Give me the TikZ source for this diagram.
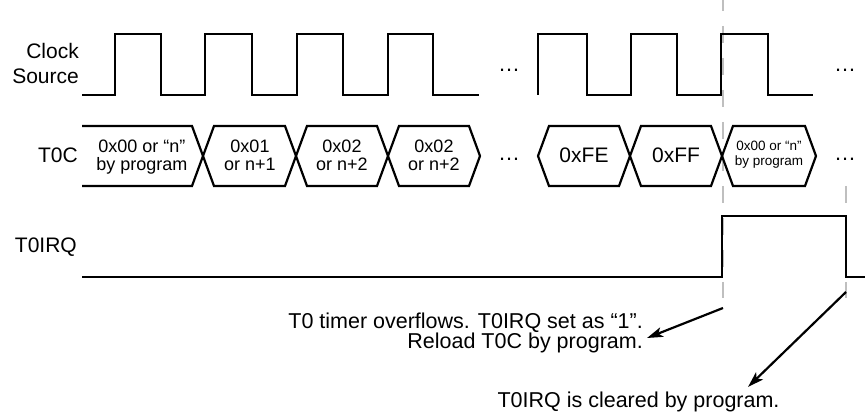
\documentclass[tikz,border=0pt]{standalone}
\usepackage{fontspec}
\setmainfont{Liberation Sans}
\usetikzlibrary{arrows.meta}
\begin{document}
\begin{tikzpicture}[x=1pt,y=-1pt,
  wave/.style={line width=2.2pt, line join=miter},
  guide/.style={line width=2pt, draw=black!25, dash pattern=on 17pt off 15pt},
  pointer/.style={line width=2.2pt, -{Stealth[length=16pt,width=10pt,inset=4pt]}},
  lbl/.style={font=\fontsize{21}{25}\selectfont, inner sep=0pt},
  val/.style={font=\fontsize{18}{18}\selectfont, inner sep=0pt, align=center, anchor=base},
  bigval/.style={font=\fontsize{21}{21}\selectfont, inner sep=0pt, anchor=base},
  smallval/.style={font=\fontsize{13.5}{15}\selectfont, inner sep=0pt, align=center, anchor=base},
  note/.style={font=\fontsize{21.5}{18.5}\selectfont, inner sep=0pt},
  gap/.style={font=\fontsize{22}{22}\selectfont, inner sep=0pt, anchor=base}
]
\useasboundingbox (0,0) rectangle (865,419);

% guide lines (under the waves)
\draw[guide, dash phase=6pt] (723,0) -- (723,298);
\draw[guide] (846,186) -- (846,298);

% signal labels
\node[lbl, anchor=east, align=right] (clk) at (79,63) {Clock\\Source};
\node[lbl, anchor=base east] (t0c) at (78,163) {T0C};
\node[lbl, anchor=base east] (irq) at (77,253) {T0IRQ};

% clock source
\draw[wave] (82,95) -- (115,95) -- (115,34) -- (161,34) -- (161,95) -- (205,95) -- (205,34) -- (252,34) -- (252,95) -- (297,95) -- (297,34) -- (343,34) -- (343,95) -- (388,95) -- (388,34) -- (433,34) -- (433,95) -- (479,95);
\draw[wave] (538,95) -- (538,34) -- (587,34) -- (587,95) -- (631,95) -- (631,34) -- (677,34) -- (677,95) -- (721,95) -- (721,34) -- (768,34) -- (768,95) -- (813,95);

% T0C bus
\draw[wave] (82,126) -- (192,126) -- (214,186) -- (285,186) -- (307,126) -- (377,126) -- (399,186) -- (469,186) -- (480,156) -- (469,126) -- (399,126) -- (377,186) -- (307,186) -- (285,126) -- (214,126) -- (192,186) -- (82,186);
\draw[wave] (538,156) -- (549,126) -- (619,126) -- (641,186) -- (711,186) -- (733,126) -- (805,126) -- (816,156) -- (805,186) -- (733,186) -- (711,126) -- (641,126) -- (619,186) -- (549,186) -- cycle;

\node[val] (v0) at (142,171) {0x00 or “n”\\by program};
\node[val] (v1) at (250,171) {0x01\\or n+1};
\node[val] (v2) at (342,171) {0x02\\or n+2};
\node[val] (v3) at (434,171) {0x02\\or n+2};
\node[bigval] (vfe) at (584,163) {0xFE};
\node[bigval] (vff) at (676,163) {0xFF};
\node[smallval] (v4) at (769,166) {0x00 or “n”\\by program};

% gaps
\node[gap] (d1) at (509,72) {…};
\node[gap] (d2) at (509,161) {…};
\node[gap] (d3) at (845,72) {…};
\node[gap] (d4) at (845,161) {…};

% T0IRQ
\draw[wave] (82,277) -- (722,277) -- (722,216) -- (846,216) -- (846,277) -- (865,277);

% annotations
\node[note, anchor=base east, align=right] (n1) at (643,349) {T0 timer overflows. T0IRQ set as “1”.\\Reload T0C by program.};
\node[note, anchor=base] (n2) at (638.5,408) {T0IRQ is cleared by program.};

\coordinate (a1s) at (723,308);
\coordinate (a1e) at (647,338);
\coordinate (a2s) at (846,292);
\coordinate (a2e) at (748,387);
\draw[pointer] (a1s) -- (a1e);
\draw[pointer] (a2s) -- (a2e);
\end{tikzpicture}
\end{document}
